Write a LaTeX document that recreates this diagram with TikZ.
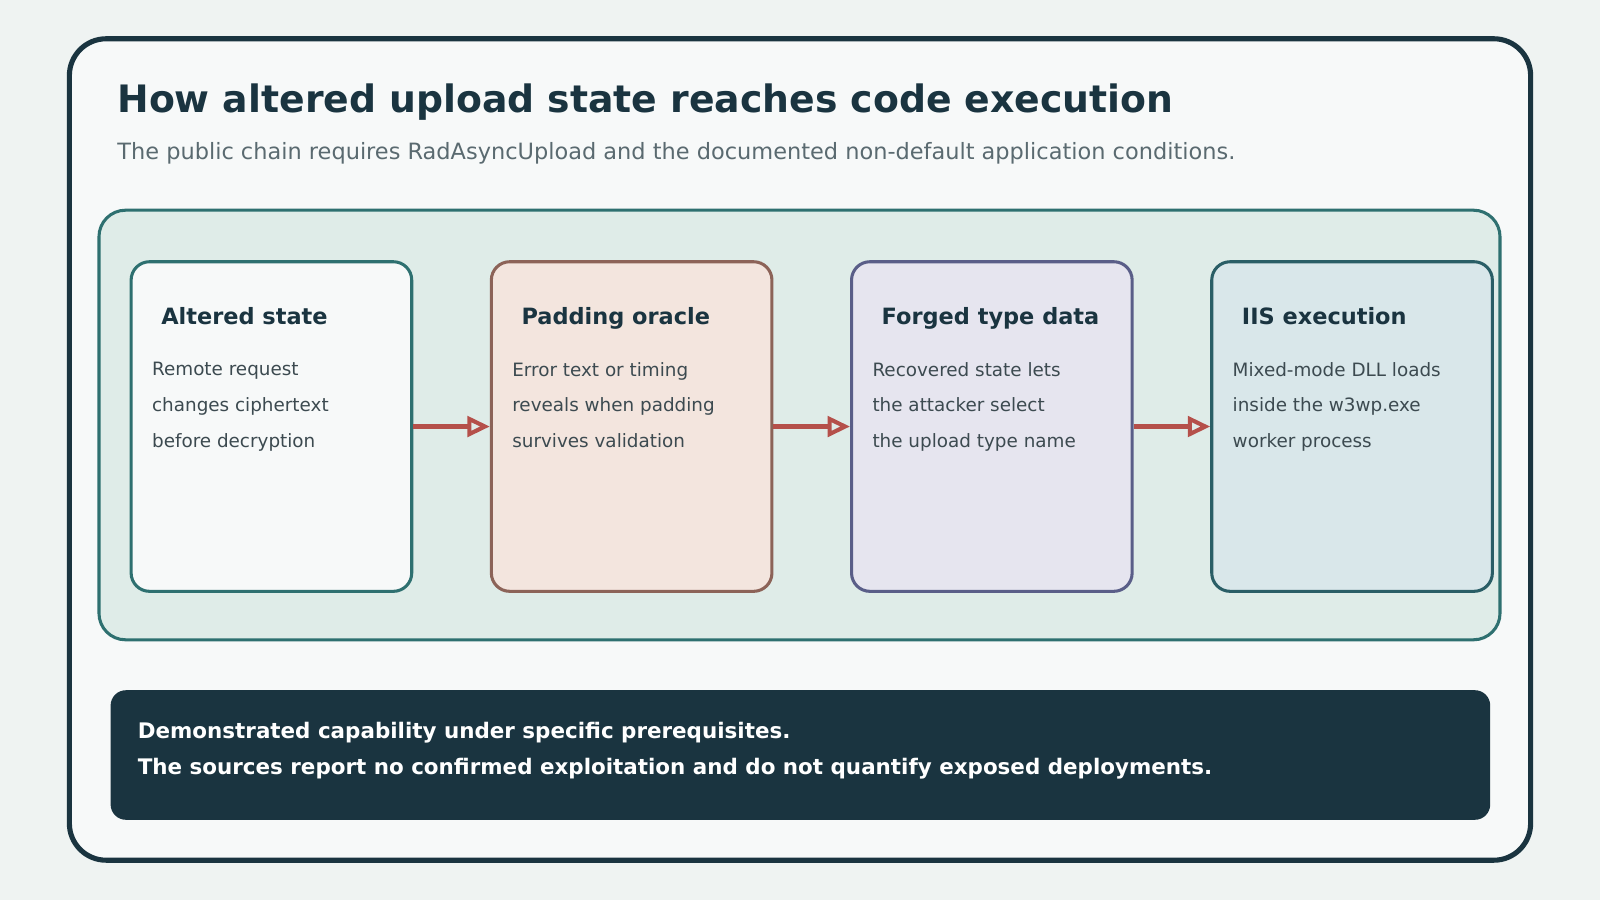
\documentclass[tikz,border=0pt]{standalone}
\usepackage{fontspec}
\setmainfont{DejaVu Sans}
\usetikzlibrary{arrows.meta}
\definecolor{ink}{HTML}{1A3440}
\definecolor{pagebg}{HTML}{EFF3F2}
\definecolor{cardbg}{HTML}{F7F9F9}
\definecolor{panelbg}{HTML}{DFECE8}
\definecolor{teal}{HTML}{2E7070}
\definecolor{subgray}{HTML}{5A6A70}
\definecolor{bodygray}{HTML}{3C4A50}
\definecolor{arrowred}{HTML}{B5504A}
\definecolor{fillb}{HTML}{F3E5DE}\definecolor{drawb}{HTML}{8C6358}
\definecolor{fillc}{HTML}{E6E5EF}\definecolor{drawc}{HTML}{5A5E88}
\definecolor{filld}{HTML}{D9E7EA}\definecolor{drawd}{HTML}{2A5E66}
\begin{document}
\begin{tikzpicture}[
                            x=0.5pt, y=-0.5pt,
                            >={Triangle[open,length=11pt,width=10pt]},
                            stage/.style={rectangle, rounded corners=9pt, line width=1.5pt,
                                minimum width=137.5pt, minimum height=161.5pt, anchor=north west},
                            stagetitle/.style={anchor=base west, font=\fontsize{11}{13}\selectfont\bfseries, text=ink},
                            stagebody/.style={anchor=north west, align=left, text=bodygray,
                                font=\fontsize{9}{17.5}\selectfont},
                            link/.style={->, draw=arrowred, line width=2pt}
                        ]
                        % Frame
                        \fill[pagebg] (0,0) rectangle (1568,882);
                        \useasboundingbox (0,0) rectangle (1568,882);
                        \draw[ink, fill=cardbg, line width=2.5pt, rounded corners=18pt] (68,38) rectangle (1500,843);
                        \node[anchor=base west, font=\fontsize{18.5}{22}\selectfont\bfseries, text=ink] (title) at (108,110) {How altered upload state reaches code execution};
                        \node[anchor=base west, font=\fontsize{11}{13}\selectfont, text=subgray] (sub) at (108,156) {The public chain requires RadAsyncUpload and the documented non-default application conditions.};
                        \draw[teal, fill=panelbg, line width=1.5pt, rounded corners=13pt] (97,206) rectangle (1470,627);

                        % Blocks
                        \node [stage, draw=teal, fill=cardbg] (A) at (127,255) {};
                        \node [stage, draw=drawb, fill=fillb] (B) at (480,255) {};
                        \node [stage, draw=drawc, fill=fillc] (C) at (833,255) {};
                        \node [stage, draw=drawd, fill=filld] (D) at (1186,255) {};

                        \node [stagetitle] (Ah) at (151,318) {Altered state};
                        \node [stagetitle] (Bh) at (504,318) {Padding oracle};
                        \node [stagetitle] (Ch) at (857,318) {Forged type data};
                        \node [stagetitle] (Dh) at (1210,318) {IIS execution};

                        \node [stagebody] (At) at (142,348) {Remote request\\changes ciphertext\\before decryption};
                        \node [stagebody] (Bt) at (495,348) {Error text or timing\\reveals when padding\\survives validation};
                        \node [stagebody] (Ct) at (848,348) {Recovered state lets\\the attacker select\\the upload type name};
                        \node [stagebody] (Dt) at (1201,348) {Mixed-mode DLL loads\\inside the w3wp.exe\\worker process};

                        % Connections
                        \draw [link] (A.east) -- (B.west);
                        \draw [link] (B.east) -- (C.west);
                        \draw [link] (C.east) -- (D.west);

                        % Note
                        \node [rectangle, fill=ink, rounded corners=7.5pt, minimum width=676pt, minimum height=63.5pt, anchor=north west] (note) at (108,676) {};
                        \node [anchor=north west, align=left, text=white, font=\fontsize{10.5}{17.5}\selectfont\bfseries] (notet) at (128,701) {Demonstrated capability under specific prerequisites.\\The sources report no confirmed exploitation and do not quantify exposed deployments.};
                    \end{tikzpicture}
\end{document}
